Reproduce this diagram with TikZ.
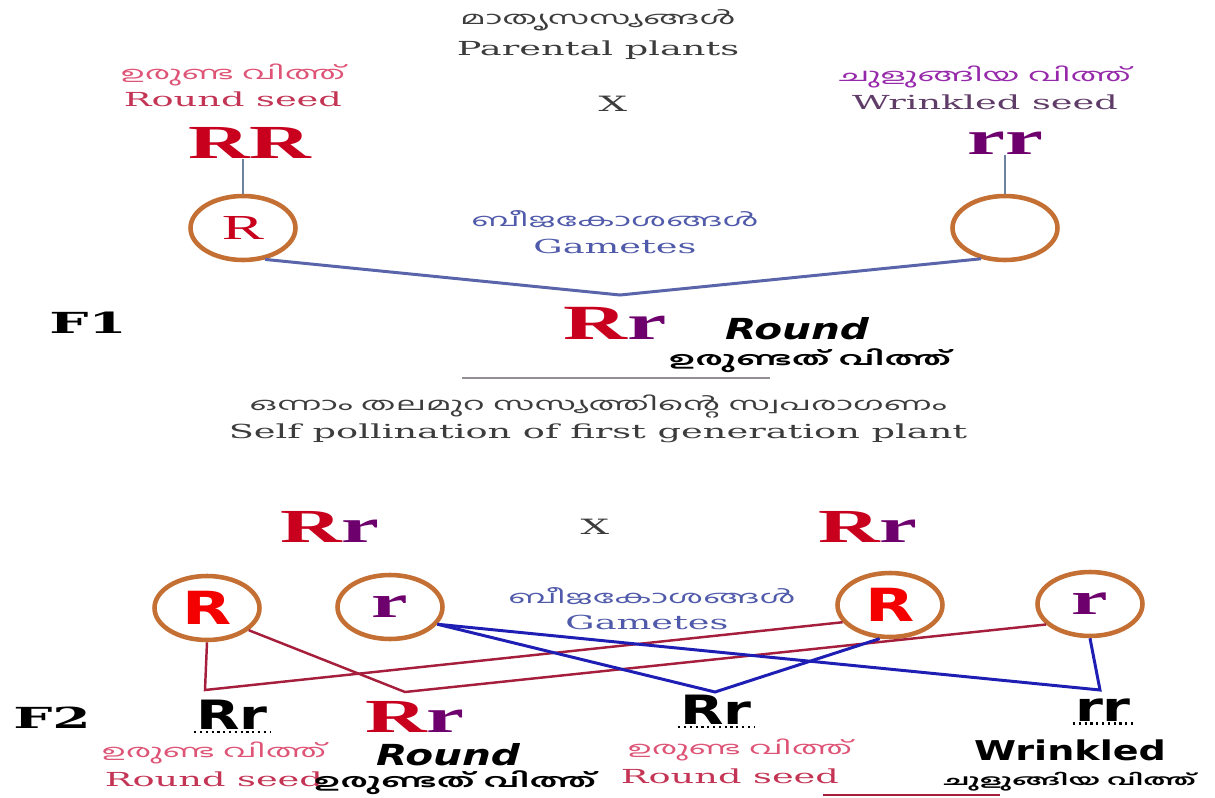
\documentclass[tikz,border=0pt]{standalone}
\usepackage{fontspec}
\usepackage{tikz}
\usetikzlibrary{shapes.geometric, positioning}

\newfontfamily\wserif[FakeStretch=1.9]{DejaVu Serif}
\newfontfamily\gserif[FakeStretch=1.8]{Liberation Serif}
\newfontfamily\wsans[FakeStretch=1.4]{DejaVu Sans}
\newfontfamily\mal[Script=Malayalam,FakeStretch=1.95]{Hind Kochi}

\definecolor{ringcol}{RGB}{196,112,52}
\definecolor{seedred}{RGB}{196,52,84}
\definecolor{seedpink}{RGB}{222,84,118}
\definecolor{wrinkcol}{RGB}{96,60,104}
\definecolor{wrinkml}{RGB}{150,40,170}
\definecolor{genred}{RGB}{200,0,30}
\definecolor{genpurp}{RGB}{110,0,110}
\definecolor{gamblue}{RGB}{80,90,170}
\definecolor{stemcol}{RGB}{110,130,160}
\definecolor{foneline}{RGB}{90,100,170}
\definecolor{crossred}{RGB}{165,30,60}
\definecolor{crossblue}{RGB}{30,30,180}
\definecolor{inkgray}{RGB}{60,60,60}
\definecolor{brightred}{RGB}{245,0,0}
\definecolor{rulegray}{RGB}{150,140,150}

\newcommand{\Rr}{\textcolor{genred}{R}\textcolor{genpurp}{r}}

\begin{document}
\begin{tikzpicture}[
    x=0.02cm, y=-0.02cm,
    node distance=0pt,
    gamete/.style={ellipse, draw=ringcol, line width=2.6pt, minimum width=2.1cm, minimum height=1.28cm, inner sep=0pt},
    engl/.style={font=\wserif\fontsize{11}{13}\selectfont, inner sep=0pt},
    mlab/.style={font=\mal\fontsize{10}{12}\selectfont, inner sep=0pt},
    mlbold/.style={font=\mal\bfseries\fontsize{10.5}{12}\selectfont, inner sep=0pt},
    geno/.style={font=\gserif\bfseries\fontsize{27}{30}\selectfont, inner sep=0pt, text depth=0pt},
    genosans/.style={font=\wsans\bfseries\fontsize{23}{26}\selectfont, inner sep=1pt},
    kind/.style={font=\wsans\bfseries\itshape\fontsize{16.5}{18}\selectfont, inner sep=0pt},
    gen/.style={font=\wserif\bfseries\fontsize{16.5}{18}\selectfont},
    cross/.style={font=\wserif\fontsize{12}{14}\selectfont, text=inkgray},
    stem/.style={draw=stemcol, line width=1.7pt},
    fone/.style={draw=foneline, line width=1.7pt},
    redlink/.style={draw=crossred, line width=1.4pt},
    bluelink/.style={draw=crossblue, line width=1.7pt},
    dotline/.style={dotted, line width=1.3pt}
]
\useasboundingbox (0,0) rectangle (1215,798);

% parents
\node[mlab, text=inkgray] (mlParent) at (598,20) {മാതൃസസ്യങ്ങൾ};
\node[engl, text=inkgray] (parent) at (598,50) {Parental plants};
\node[mlab, text=seedpink] (mlRoundA) at (233,75) {ഉരുണ്ട വിത്ത്};
\node[engl, text=seedred] (roundA) at (233,99) {Round seed};
\node[cross] (crossA) at (613,104) {X};
\node[mlab, text=wrinkml] (mlWrinkA) at (985,77) {ചുളുങ്ങിയ വിത്ത്};
\node[engl, text=wrinkcol] (wrinkA) at (985,102) {Wrinkled seed};
\node[geno, text=genred] (RR) at (250,143) {RR};
\node[geno, text=genpurp] (rr) at (1005,143) {rr};

% gametes of the parents
\node[gamete] (gL) at (243,228) {\gserif\fontsize{20}{22}\selectfont\textcolor{genred}{R}};
\node[gamete] (gR) at (1005,228) {};
\node[mlab, text=gamblue] (mlGamA) at (615,219) {ബീജകോശങ്ങൾ};
\node[engl, text=gamblue] (gamA) at (615,246) {Gametes};
\draw[stem] (RR.south -| gL.north) -- (gL.north);
\draw[stem] (rr.south -| gR.north) -- (gR.north);
\coordinate (fjoin) at (620,295);
\draw[fone] (gL.-55) -- (fjoin) -- (gR.-128);

% F1
\node[gen] (fOne) at (88,323) {F1};
\node[geno, font=\gserif\bfseries\fontsize{28}{30}\selectfont] (RrOne) at (615,323) {\Rr};
\node[kind] (roundOne) at (797,329) {Round};
\node[mlbold] (mlRoundOne) at (810,361) {ഉരുണ്ടത് വിത്ത്};
\coordinate (ruleL) at (462,378);
\coordinate (ruleR) at (770,378);
\draw[rulegray, line width=1pt] (ruleL) -- (ruleR);
\node[mlab, text=inkgray] (mlSelf) at (598,407) {ഒന്നാം തലമുറ സസ്യത്തിന്റെ സ്വപരാഗണം};
\node[engl, text=inkgray] (self) at (598,433) {Self pollination of first generation plant};

% self cross
\node[geno] (RrA) at (330,527) {\Rr};
\node[cross] (crossB) at (595,527) {X};
\node[geno] (RrB) at (868,527) {\Rr};
\node[gamete] (gA) at (207,608) {\wsans\bfseries\fontsize{26}{28}\selectfont\textcolor{brightred}{R}};
\node[gamete] (gB) at (390,607) {\gserif\bfseries\fontsize{26}{28}\selectfont\textcolor{genpurp}{r}};
\node[gamete] (gC) at (890,605) {\wsans\bfseries\fontsize{26}{28}\selectfont\textcolor{brightred}{R}};
\node[gamete] (gD) at (1090,604) {\gserif\bfseries\fontsize{26}{28}\selectfont\textcolor{genpurp}{r}};
\node[mlab, text=gamblue] (mlGamB) at (652,596) {ബീജകോശങ്ങൾ};
\node[engl, text=gamblue] (gamB) at (647,622) {Gametes};

\coordinate (jA) at (205,690);
\coordinate (jB) at (405,692);
\coordinate (jC) at (715,692);
\coordinate (jD) at (1100,690);
\draw[redlink] (gA.south) -- (jA) -- (gC.200);
\draw[redlink] (gA.-28) -- (jB) -- (gD.205);
\draw[bluelink] (gB.-20) -- (jC) -- (gC.-107);
\draw[bluelink] (gB.-20) -- (jD) -- (gD.south);

% F2
\node[gen] (fTwo) at (52,718) {F2};
\node[genosans] (oA) at (232,715) {Rr};
\node[geno] (oB) at (415,717) {\Rr};
\node[genosans] (oC) at (716,710) {Rr};
\node[genosans] (oD) at (1103,710) {rr};
\draw[dotline] (oA.south west) -- (oA.south east);
\draw[dotline] (oC.south west) -- (oC.south east);
\draw[dotline] (oD.south west) -- (oD.south east);

\node[mlab, text=seedpink] (mlRoundB) at (214,753) {ഉരുണ്ട വിത്ത്};
\node[engl, text=seedred] (roundB) at (214,779) {Round seed};
\node[kind] (roundTwo) at (448,755) {Round};
\node[mlbold] (mlRoundTwo) at (455,783) {ഉരുണ്ടത് വിത്ത്};
\node[mlab, text=seedpink] (mlRoundC) at (740,750) {ഉരുണ്ട വിത്ത്};
\node[engl, text=seedred] (roundC) at (730,776) {Round seed};
\node[kind, font=\wsans\bfseries\fontsize{15.5}{17}\selectfont] (wrinkB) at (1070,750) {Wrinkled};
\coordinate (ruleC) at (823,795);
\coordinate (ruleD) at (1000,795);
\draw[crossred, line width=1.4pt] (ruleC) -- (ruleD);
\node[mlbold, font=\mal\bfseries\fontsize{8.3}{10}\selectfont] (mlWrinkB) at (1070,782) {ചുളുങ്ങിയ വിത്ത്};
\end{tikzpicture}
\end{document}
